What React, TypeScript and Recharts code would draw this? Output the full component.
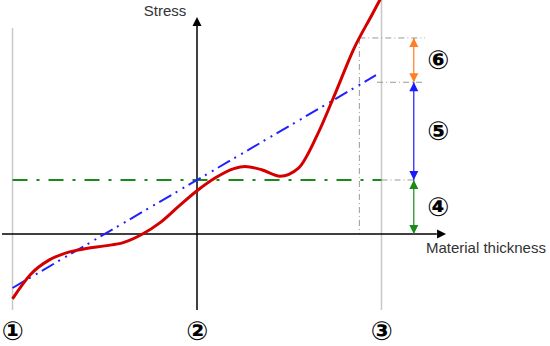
import {
  ComposedChart,
  Line,
  XAxis,
  YAxis,
  ReferenceLine,
  ReferenceDot,
} from 'recharts';

// units: x = 1 between markers, y = 1 at the base stress level
const stressX = [-1, -0.9, -0.8, -0.7, -0.6, -0.5, -0.4, -0.3, -0.2, -0.1, 0, 0.1, 0.2, 0.26, 0.35, 0.45, 0.55, 0.65, 0.75, 0.85, 0.95, 1.0];
const stressY = [-1.2, -0.74, -0.48, -0.34, -0.27, -0.22, -0.16, -0.01, 0.21, 0.51, 0.8, 1.04, 1.21, 1.25, 1.19, 1.07, 1.22, 1.82, 2.61, 3.43, 4.07, 4.39];

const fitX = [-1, 0.97];
const fitY = [-1, 2.94];

const markerX = [-1, 0, 1];
const markerLabels = ['①', '②', '③'];

const levels = [0, 1, 2.81, 3.63];
const levelLabels = ['④', '⑤', '⑥'];
const levelColors = ['#1a8a1a', '#1a1aff', '#ff7f27'];

const peakX = 0.88;
const arrowX = 1.175;

const stressData = stressX.map((x, i) => ({ x, y: stressY[i] }));
const fitData = fitX.map((x, i) => ({ x, y: fitY[i] }));

const X_DOMAIN = [-1.0678, 1.9133];
const Y_DOMAIN = [-2.074, 4.333];

const Head = ({ cx, cy, dir, color }: any) => {
  const l = 9;
  const h = 4.5;
  let pts = '';
  if (dir === 'up') pts = `${cx},${cy} ${cx - h},${cy + l} ${cx + h},${cy + l}`;
  if (dir === 'down') pts = `${cx},${cy} ${cx - h},${cy - l} ${cx + h},${cy - l}`;
  if (dir === 'right') pts = `${cx},${cy} ${cx - l},${cy - h} ${cx - l},${cy + h}`;
  return <polygon points={pts} fill={color} stroke="none" />;
};

const Label = ({ cx, cy, text }: any) => (
  <text x={cx} y={cy} textAnchor="middle" fontSize={15} fontFamily="'Liberation Sans', Arial, sans-serif" fill="#333">
    {text}
  </text>
);

const Circled = ({ cx, cy, text }: any) => (
  <text
    x={cx}
    y={cy}
    textAnchor="middle"
    dominantBaseline="central"
    fontSize={26}
    fontWeight="bold"
    fontFamily="'DejaVu Sans', sans-serif"
    fill="#000"
  >
    {text}
  </text>
);

export default function App() {
  const grayDash = '6 3 1 3';
  return (
    <div style={{ position: 'absolute', left: 0, top: 0, background: '#fff' }}>
      <ComposedChart width={550} height={346} margin={{ top: 0, right: 0, bottom: 0, left: 0 }}>
        <XAxis type="number" dataKey="x" domain={X_DOMAIN} allowDataOverflow hide />
        <YAxis type="number" dataKey="y" domain={Y_DOMAIN} allowDataOverflow hide />

        {/* marker verticals */}
        <ReferenceLine segment={[{ x: -1, y: 3.815 }, { x: -1, y: -1.407 }]} stroke="#c8c8c8" strokeWidth={1.5} ifOverflow="visible" />
        <ReferenceLine segment={[{ x: 1, y: 4.4 }, { x: 1, y: -1.407 }]} stroke="#c8c8c8" strokeWidth={1.5} ifOverflow="visible" />

        {/* gray helper lines */}
        <ReferenceLine segment={[{ x: peakX, y: levels[3] }, { x: peakX, y: 0 }]} stroke="#999" strokeDasharray={grayDash} ifOverflow="visible" />
        <ReferenceLine segment={[{ x: peakX, y: levels[3] }, { x: 1.236, y: levels[3] }]} stroke="#999" strokeDasharray={grayDash} ifOverflow="visible" />
        <ReferenceLine segment={[{ x: 0.976, y: levels[2] }, { x: 1.225, y: levels[2] }]} stroke="#999" strokeDasharray={grayDash} ifOverflow="visible" />
        <ReferenceLine segment={[{ x: 1, y: levels[1] }, { x: 1.18, y: levels[1] }]} stroke="#999" strokeDasharray={grayDash} ifOverflow="visible" />

        {/* axes */}
        <ReferenceLine segment={[{ x: 0, y: -1.407 }, { x: 0, y: 3.87 }]} stroke="#000" strokeWidth={1.5} ifOverflow="visible" />
        <ReferenceLine segment={[{ x: -1.057, y: 0 }, { x: 1.3, y: 0 }]} stroke="#000" strokeWidth={1.5} ifOverflow="visible" />
        <ReferenceDot x={0} y={4.02} ifOverflow="visible" shape={(p: any) => <Head {...p} dir="up" color="#000" />} />
        <ReferenceDot x={1.35} y={0} ifOverflow="visible" shape={(p: any) => <Head {...p} dir="right" color="#000" />} />

        {/* base level */}
        <ReferenceLine segment={[{ x: -1, y: levels[1] }, { x: 1, y: levels[1] }]} stroke="#1a8a1a" strokeWidth={2} strokeDasharray="15 9 3 9" ifOverflow="visible" />

        {/* level arrows */}
        {levelColors.map((c, i) => (
          <ReferenceLine key={'a' + i} segment={[{ x: arrowX, y: levels[i] }, { x: arrowX, y: levels[i + 1] }]} stroke={c} strokeWidth={1.2} ifOverflow="visible" />
        ))}
        {levelColors.map((c, i) => (
          <ReferenceDot key={'u' + i} x={arrowX} y={levels[i + 1]} ifOverflow="visible" shape={(p: any) => <Head {...p} dir="up" color={c} />} />
        ))}
        {levelColors.map((c, i) => (
          <ReferenceDot key={'d' + i} x={arrowX} y={levels[i]} ifOverflow="visible" shape={(p: any) => <Head {...p} dir="down" color={c} />} />
        ))}

        <Line data={fitData} dataKey="y" type="linear" stroke="#2020ff" strokeWidth={2} strokeDasharray="14 5 2 6 2 5" dot={false} activeDot={false} isAnimationActive={false} />
        <Line data={stressData} dataKey="y" type="monotone" stroke="#d40000" strokeWidth={3} dot={false} activeDot={false} isAnimationActive={false} />

        {/* texts */}
        <ReferenceDot x={-0.173} y={4.03} ifOverflow="visible" shape={(p: any) => <Label {...p} text="Stress" />} />
        <ReferenceDot x={1.566} y={-0.352} ifOverflow="visible" shape={(p: any) => <Label {...p} text="Material thickness" />} />
        {markerX.map((x, i) => (
          <ReferenceDot key={'m' + i} x={x} y={-1.8} ifOverflow="visible" shape={(p: any) => <Circled {...p} text={markerLabels[i]} />} />
        ))}
        {levelLabels.map((t, i) => (
          <ReferenceDot key={'l' + i} x={1.306} y={(levels[i] + levels[i + 1]) / 2} ifOverflow="visible" shape={(p: any) => <Circled {...p} text={t} />} />
        ))}
      </ComposedChart>
    </div>
  );
}
